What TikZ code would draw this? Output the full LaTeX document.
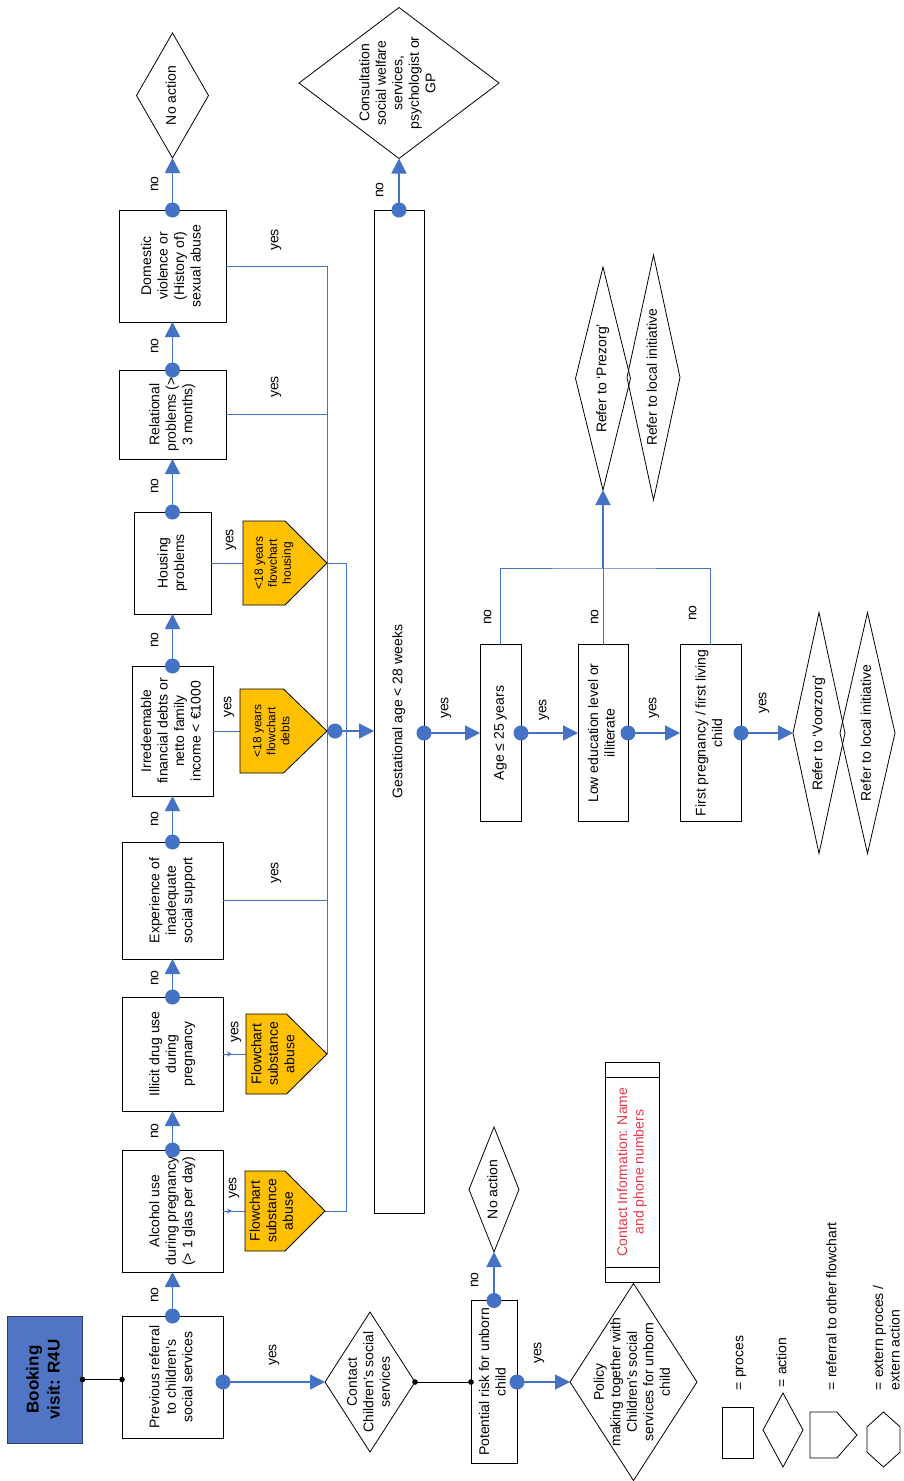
\documentclass[tikz,border=0pt]{standalone}
\usepackage{fontspec}
\setmainfont{Liberation Sans}
\usepackage{graphicx}
\usetikzlibrary{arrows.meta,calc}
\definecolor{lblue}{RGB}{68,114,196}
\definecolor{bookblue}{RGB}{79,117,196}
\definecolor{bookedge}{RGB}{40,60,110}
\definecolor{gold}{RGB}{255,192,0}
\definecolor{cred}{RGB}{232,54,78}
\newcommand{\rt}[1]{\rotatebox{90}{\begin{tabular}{@{}c@{}}#1\end{tabular}}}
\newcommand{\rtl}[1]{\rotatebox{90}{\begin{tabular}{@{}l@{}}#1\end{tabular}}}
\newcommand{\dmd}[1]{\draw[black,line width=0.8pt] (#1.north) -- (#1.east) -- (#1.south) -- (#1.west) -- cycle;}
\newcommand{\pentagon}[3]{\filldraw[fill=#2, draw=black, line width=0.8pt] (#1.north west) -- ($(#1.north west)!#3!(#1.north east)$) -- (#1.east) -- ($(#1.south west)!#3!(#1.south east)$) -- (#1.south west) -- cycle;}
\newcommand{\bdot}[1]{\fill[lblue] (#1) circle[radius=7.5pt];}
\newcommand{\kdot}[1]{\fill[black] (#1) circle[radius=2.8pt];}
\begin{document}
\begin{tikzpicture}[x=1pt,y=-1pt,
  every node/.style={font=\fontsize{14}{16.5}\selectfont, inner sep=0pt, outer sep=0pt},
  sz/.style 2 args={minimum width=#1pt, minimum height=#2pt},
  box/.style={rectangle, draw=black, line width=0.9pt, fill=white},
  dia/.style={rectangle, draw=none},
  pent/.style={rectangle, draw=none},
  bookbox/.style={rectangle, draw=bookedge, line width=1pt, fill=bookblue},
  conn/.style={draw=lblue, line width=1.8pt},
  arr/.style={conn, -{Triangle[length=15pt,width=15pt]}},
  arrm/.style={draw=lblue, line width=1.4pt, -{Triangle[length=15pt,width=15pt]}},
  bus/.style={draw=lblue, line width=1pt},
  kline/.style={draw=black, line width=1pt},
  small/.style={font=\fontsize{12}{14}\selectfont}
]
\fill[white] (0,0) rectangle (904,1481);
\useasboundingbox (0,0) rectangle (904,1481);

% ---- main column ----
\node[bookbox, sz={75}{127}] (booking) at (45,1379.5) {\fontsize{17}{21}\selectfont\bfseries\rt{Booking\\visit: R4U}};
\node[box, sz={101}{122}] (prev) at (172.5,1377) {\rt{Previous referral\\to children's\\social services}};
\node[box, sz={101}{122}] (alc) at (172.5,1211) {\rt{Alcohol use\\during pregnancy\\(> 1 glas per day)}};
\node[box, sz={101}{114}] (ill) at (172.5,1054) {\rt{Illicit drug use\\during\\pregnancy}};
\node[box, sz={101}{117}] (exp) at (172.5,900.5) {\rt{Experience of\\inadequate\\social support}};
\node[box, sz={81}{130}] (irr) at (172.5,731) {\rt{Irredeemable\\financial debts or\\netto family\\income < €1000}};
\node[box, sz={77}{102}] (hou) at (172.5,563) {\rt{Housing\\problems}};
\node[box, sz={107}{89}] (rel) at (172.5,414.5) {\rt{Relational\\problems (>\\3 months)}};
\node[box, sz={107}{112}] (dom) at (172.5,266) {\rt{Domestic\\violence or\\(History of)\\sexual abuse}};
\node[dia, sz={72}{125}] (noa1) at (172.5,95.5) {\rt{No action}};
\dmd{noa1}
\node[dia, sz={200}{151}] (cons) at (399,83) {\rt{Consultation\\social welfare\\services,\\psychologist or\\GP}};
\dmd{cons}

% ---- pentagons ----
\node[pent, sz={80}{80}] (pAlc) at (285,1211) {};
\node[pent, sz={81}{80}] (pIll) at (286.5,1054) {};
\node[pent, sz={87}{84}] (pDeb) at (283.5,731) {};
\node[pent, sz={84}{84}] (pHou) at (285,563) {};

% ---- collector lines ----
\draw[bus] (dom.east) -| (pIll.east);
\draw[bus] (rel.east) -- (rel.east -| pIll.east);
\draw[bus] (exp.east) -- (exp.east -| pIll.east);
\coordinate (busB) at (346,563);
\draw[bus] (pHou.east) -- (busB) |- (pAlc.east);
\draw[bus] (hou.east) -- (pHou.west);
\draw[bus] (irr.east) -- (pDeb.west);
\draw[bus] (ill.east) -- (pIll.west);
\draw[bus] (alc.east) -- (pAlc.west);
\draw[bus, -{Stealth[length=5pt,width=5pt]}] (ill.east) -- ([xshift=9pt]ill.east);
\draw[bus, -{Stealth[length=5pt,width=5pt]}] (alc.east) -- ([xshift=9pt]alc.east);

\pentagon{pAlc}{gold}{0.5}
\pentagon{pIll}{gold}{0.5}
\pentagon{pDeb}{gold}{0.5}
\pentagon{pHou}{gold}{0.5}
\node (pAlcT) at ([xshift=-12pt]pAlc.center) {\rt{Flowchart\\substance\\abuse}};
\node (pIllT) at ([xshift=-12pt]pIll.center) {\rt{Flowchart\\substance\\abuse}};
\node[small] (pDebT) at ([xshift=-11pt]pDeb.center) {\rt{<18 years\\flowchart\\debts}};
\node[small] (pHouT) at ([xshift=-11pt]pHou.center) {\rt{<18 years\\flowchart\\housing}};

% ---- gestational and right part ----
\node[box, sz={50}{1003}] (gest) at (399,711.5) {\rt{Gestational age < 28 weeks}};
\node[box, sz={41}{177}] (age) at (500.5,733) {\rt{Age ≤ 25 years}};
\node[box, sz={50}{177}] (low) at (603,733) {\rt{Low education level or\\illiterate}};
\node[box, sz={61}{177}] (first) at (710.5,733) {\rt{First pregnancy / first living\\child}};
\node[dia, sz={52}{241}] (voor) at (819,733) {\rt{Refer to `Voorzorg'}};
\dmd{voor}
\node[dia, sz={55}{241}] (loc1) at (867.5,733) {\rt{Refer to local initiative}};
\dmd{loc1}
\node[dia, sz={55}{223}] (prez) at (603,378.5) {\rt{Refer to `Prezorg'}};
\dmd{prez}
\node[dia, sz={53}{245}] (loc2) at (653.5,377.5) {\rt{Refer to local initiative}};
\dmd{loc2}

% ---- bottom-left part ----
\node[dia, sz={90}{140}] (cont) at (370,1382) {\rt{Contact\\Children's social\\services}};
\dmd{cont}
\node[box, sz={46}{163}] (pot) at (494,1382) {\rt{Potential risk for unborn\\child}};
\node[dia, sz={50}{125}] (noa2) at (494,1189.5) {\rt{No action}};
\dmd{noa2}
\node[dia, sz={127}{197}] (pol) at (633.5,1382) {\rt{Policy\\making together with\\Children's social\\services for unborn\\child}};
\dmd{pol}
\node[box, sz={54}{220}] (info) at (632,1172) {\color{cred}\rt{Contact Information: Name\\and phone numbers}};
\draw[black, line width=0.9pt] ([yshift=-15pt]info.north west) -- ([yshift=-15pt]info.north east);
\draw[black, line width=0.9pt] ([yshift=15pt]info.south west) -- ([yshift=15pt]info.south east);

% ---- connectors ----
\draw[kline] (booking.east) -- (booking.east -| prev.west);
\kdot{booking.east} \kdot{booking.east -| prev.west}
\draw[arr] (prev.north) -- (alc.south);
\draw[arr] (alc.north) -- (ill.south);
\draw[arr] (ill.north) -- (exp.south);
\draw[arr] (exp.north) -- (irr.south);
\draw[arr] (irr.north) -- (hou.south);
\draw[arr] (hou.north) -- (rel.south);
\draw[arr] (rel.north) -- (dom.south);
\draw[arr] (dom.north) -- (noa1.south);
\bdot{prev.north} \bdot{alc.north} \bdot{ill.north} \bdot{exp.north}
\bdot{irr.north} \bdot{hou.north} \bdot{rel.north} \bdot{dom.north}

\coordinate (cdot) at (335,731);
\draw[arrm] (cdot) -- (cdot -| gest.west);
\bdot{cdot}

\draw[arr] (gest.north) -- (cons.south);
\bdot{gest.north}

\coordinate (gy) at (gest.east |- age.west);
\draw[arrm] (gy) -- (age.west);
\draw[arrm] (age.east) -- (low.west);
\draw[arrm] (low.east) -- (first.west);
\draw[arrm] (first.east) -- (voor.west);
\bdot{gy} \bdot{age.east} \bdot{low.east} \bdot{first.east}

\coordinate (nj) at (603,568);
\draw[bus] (age.north) |- (nj) -| (first.north);
\draw[bus] (low.north) -- (nj);
\draw[draw=lblue, line width=2pt, -{Triangle[length=15pt,width=15pt]}] (nj) -- (prez.south);

\coordinate (pyes) at (prev.east |- cont.west);
\draw[arrm] (pyes) -- (cont.west);
\bdot{pyes}
\draw[kline] (cont.east) -- (cont.east -| pot.west);
\kdot{cont.east} \kdot{cont.east -| pot.west}
\draw[arr] (pot.north) -- (noa2.south);
\draw[arrm] (pot.east) -- (pol.west);
\bdot{pot.north} \bdot{pot.east}

% ---- labels ----
\node (n1) at (155,1295) {\rt{no}};
\node (n2) at (155,1131) {\rt{no}};
\node (n3) at (155,978) {\rt{no}};
\node (n4) at (155,819) {\rt{no}};
\node (n5) at (155,640) {\rt{no}};
\node (n6) at (155,486) {\rt{no}};
\node (n7) at (155,346) {\rt{no}};
\node (n8) at (155,184) {\rt{no}};
\node (n9) at (380,190) {\rt{no}};
\node (n10) at (488,617) {\rt{no}};
\node (n11) at (595,617) {\rt{no}};
\node (n12) at (693,613) {\rt{no}};
\node (n13) at (475,1280) {\rt{no}};
\node (y1) at (233,1188) {\rt{yes}};
\node (y2) at (235,1032) {\rt{yes}};
\node (y3) at (228,707) {\rt{yes}};
\node (y4) at (230,540) {\rt{yes}};
\node (y5) at (275,873) {\rt{yes}};
\node (y6) at (275,387) {\rt{yes}};
\node (y7) at (275,240) {\rt{yes}};
\node (y8) at (273,1355) {\rt{yes}};
\node (y9) at (445,708) {\rt{yes}};
\node (y10) at (543,710) {\rt{yes}};
\node (y11) at (653,708) {\rt{yes}};
\node (y12) at (763,703) {\rt{yes}};
\node (y13) at (538,1353) {\rt{yes}};

% ---- legend ----
\node[box, sz={31}{51}] (lgR) at (737.5,1432.5) {};
\node[dia, sz={40}{74}] (lgD) at (783,1430) {};
\dmd{lgD}
\node[pent, sz={47}{46}] (lgP) at (833.5,1435) {};
\pentagon{lgP}{white}{0.57}
\node[dia, sz={33}{55}] (lgH) at (883.5,1439.5) {};
\draw[black, line width=0.8pt] (lgH.north) -- ($(lgH.north east)!0.27!(lgH.south east)$) -- ($(lgH.north east)!0.73!(lgH.south east)$) -- (lgH.south) -- ($(lgH.north west)!0.73!(lgH.south west)$) -- ($(lgH.north west)!0.27!(lgH.south west)$) -- cycle;
\node[anchor=south] (lgRt) at (740,1390) {\rtl{= proces}};
\node[anchor=south] (lgDt) at (783,1387) {\rtl{= action}};
\node[anchor=south] (lgPt) at (833,1390) {\rtl{= referral to other flowchart}};
\node[anchor=south] (lgHt) at (888,1390) {\rtl{= extern proces /\\extern action}};
\end{tikzpicture}
\end{document}
